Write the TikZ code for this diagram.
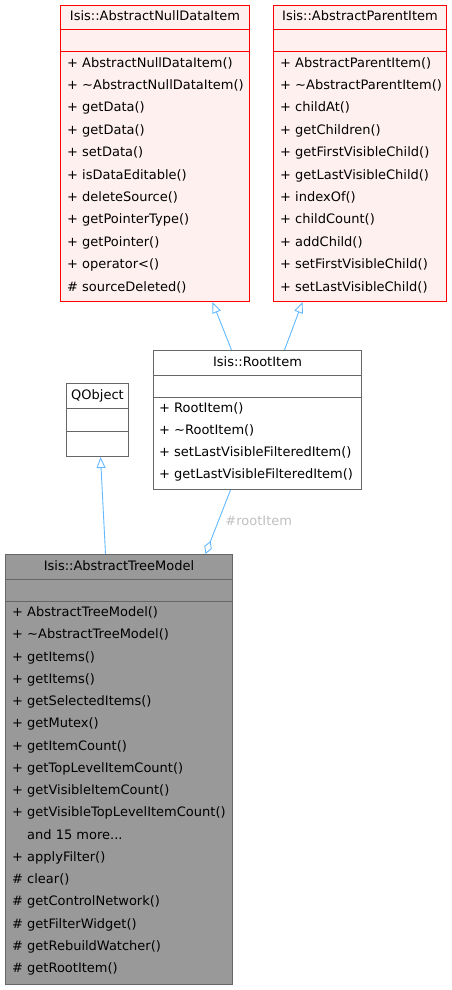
\documentclass[tikz,border=0pt]{standalone}
\usepackage{fontspec}
\setmainfont{DejaVu Sans}
\usepackage{tikz}
\usetikzlibrary{positioning,arrows.meta,calc}
\usepackage{xcolor}
\definecolor{edgeblue}{HTML}{63B8FF}
\definecolor{linegrey}{HTML}{666666}
\definecolor{redfill}{HTML}{FFF0F0}
\definecolor{modelfill}{HTML}{999999}
\definecolor{labelgrey}{HTML}{C0C0C0}
\newcommand{\moredots}{...}

\begin{document}
\begin{tikzpicture}[x=1pt, y=-1pt,
  classbox/.style={draw=linegrey, fill=white, line width=1pt, inner sep=0pt, anchor=north west},
  redbox/.style={classbox, draw=red, fill=redfill},
  greybox/.style={classbox, fill=modelfill},
  classname/.style={inner sep=0pt, font=\fontsize{13}{15}\selectfont, text height=9.5pt, text depth=2.5pt},
  member/.style={classname, anchor=west},
  inherit/.style={draw=edgeblue, line width=0.9pt, -{Triangle[open, length=11pt, width=9pt]}},
  aggr/.style={draw=edgeblue, line width=0.9pt, -{Diamond[open, length=14pt, width=8pt]}}]
\useasboundingbox (0,0) rectangle (452,990);

% Isis::AbstractNullDataItem
\node[redbox, minimum width=189pt, minimum height=296pt] (nulldata) at (60,5) {};
\draw[red, line width=1pt] ([yshift=-25pt]nulldata.north west) -- ([yshift=-25pt]nulldata.north east);
\draw[red, line width=1pt] ([yshift=-47pt]nulldata.north west) -- ([yshift=-47pt]nulldata.north east);
\node[classname] (nulldata-t) at ([yshift=-12.5pt]nulldata.north) {Isis::AbstractNullDataItem};
\foreach \m [count=\i] in {+ AbstractNullDataItem(), + \textasciitilde AbstractNullDataItem(), + getData(), + getData(), + setData(), + isDataEditable(), + deleteSource(), + getPointerType(), + getPointer(), + operator<(), \# sourceDeleted()}
  \node[member] (nulldata-\i) at ([xshift=7pt, yshift={-58.5pt-(\i-1)*22.4pt}]nulldata.north west) {\m};

% Isis::AbstractParentItem
\node[redbox, minimum width=173pt, minimum height=296pt] (parent) at (273,5) {};
\draw[red, line width=1pt] ([yshift=-25pt]parent.north west) -- ([yshift=-25pt]parent.north east);
\draw[red, line width=1pt] ([yshift=-47pt]parent.north west) -- ([yshift=-47pt]parent.north east);
\node[classname] (parent-t) at ([yshift=-12.5pt]parent.north) {Isis::AbstractParentItem};
\foreach \m [count=\i] in {+ AbstractParentItem(), + \textasciitilde AbstractParentItem(), + childAt(), + getChildren(), + getFirstVisibleChild(), + getLastVisibleChild(), + indexOf(), + childCount(), + addChild(), + setFirstVisibleChild(), + setLastVisibleChild()}
  \node[member] (parent-\i) at ([xshift=7pt, yshift={-58.5pt-(\i-1)*22.4pt}]parent.north west) {\m};

% Isis::RootItem
\node[classbox, minimum width=208pt, minimum height=139pt] (rootitem) at (153,350) {};
\draw[linegrey, line width=1pt] ([yshift=-25pt]rootitem.north west) -- ([yshift=-25pt]rootitem.north east);
\draw[linegrey, line width=1pt] ([yshift=-47.5pt]rootitem.north west) -- ([yshift=-47.5pt]rootitem.north east);
\node[classname] (rootitem-t) at ([yshift=-12.5pt]rootitem.north) {Isis::RootItem};
\foreach \m [count=\i] in {+ RootItem(), + \textasciitilde RootItem(), + setLastVisibleFilteredItem(), + getLastVisibleFilteredItem()}
  \node[member] (rootitem-\i) at ([xshift=6pt, yshift={-58.5pt-(\i-1)*22.3pt}]rootitem.north west) {\m};

% QObject
\node[classbox, minimum width=62pt, minimum height=73pt] (qobject) at (66,383) {};
\draw[linegrey, line width=1pt] ([yshift=-25pt]qobject.north west) -- ([yshift=-25pt]qobject.north east);
\draw[linegrey, line width=1pt] ([yshift=-48pt]qobject.north west) -- ([yshift=-48pt]qobject.north east);
\node[classname] (qobject-t) at ([yshift=-12.5pt]qobject.north) {QObject};

% Isis::AbstractTreeModel
\node[greybox, minimum width=227pt, minimum height=430pt] (treemodel) at (5,554) {};
\draw[linegrey, line width=1pt] ([yshift=-25pt]treemodel.north west) -- ([yshift=-25pt]treemodel.north east);
\draw[linegrey, line width=1pt] ([yshift=-47.5pt]treemodel.north west) -- ([yshift=-47.5pt]treemodel.north east);
\node[classname] (treemodel-t) at ([yshift=-12.5pt]treemodel.north) {Isis::AbstractTreeModel};
\foreach \m [count=\i] in {+ AbstractTreeModel(), + \textasciitilde AbstractTreeModel(), + getItems(), + getItems(), + getSelectedItems(), + getMutex(), + getItemCount(), + getTopLevelItemCount(), + getVisibleItemCount(), + getVisibleTopLevelItemCount(), {\phantom{+} and 15 more\moredots}, + applyFilter(), \# clear(), \# getControlNetwork(), \# getFilterWidget(), \# getRebuildWatcher(), \# getRootItem()}
  \node[member] (treemodel-\i) at ([xshift=7pt, yshift={-59pt-(\i-1)*22.25pt}]treemodel.north west) {\m};

% connectors
\draw[inherit] ([xshift=-26pt]rootitem.north) -- ([xshift=57.5pt]nulldata.south);
\draw[inherit] ([xshift=27pt]rootitem.north) -- ([xshift=-57.5pt]parent.south);
\draw[inherit] ([xshift=-13.5pt]treemodel.north) -- ([xshift=3pt]qobject.south);
\draw[aggr] ([xshift=-27pt]rootitem.south) -- ([xshift=86.5pt]treemodel.north)
  node[classname, pos=0.5, anchor=west, xshift=7pt, text=labelgrey] (rootlabel) {\#rootItem};
\end{tikzpicture}
\end{document}
